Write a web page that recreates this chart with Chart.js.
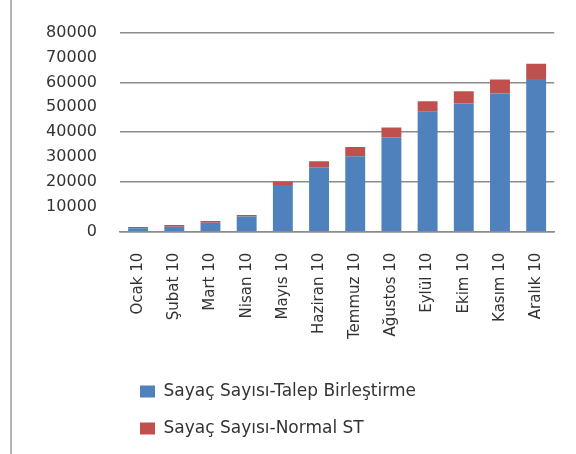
<!DOCTYPE html>
<html>
<head>
<meta charset="utf-8">
<script src="https://cdn.jsdelivr.net/npm/chart.js@4"></script>
<style>
  body { margin: 0; background: #fff; }
  .chartContainer { position: relative; width: 576px; height: 454px; }
  .frame { position: absolute; left: 10px; top: 0; width: 2px; height: 100%; background: #b4b4b4; }
</style>
</head>
<body>
<div class="chartContainer">
  <div class="frame"></div>
  <canvas id="chart"></canvas>
</div>
<script>
//chart data
const months = ["Ocak 10", "Şubat 10", "Mart 10", "Nisan 10", "Mayıs 10", "Haziran 10",
  "Temmuz 10", "Ağustos 10", "Eylül 10", "Ekim 10", "Kasım 10", "Aralık 10"];
const talepBirlestirme = [1400, 2000, 3600, 6100, 18800, 25900, 30300, 37800, 48200, 51500, 55500, 61400];
const normalST = [500, 700, 700, 600, 1400, 2400, 3700, 4100, 4200, 4900, 5700, 6100];
const seriesNames = ["Sayaç Sayısı-Talep Birleştirme", "Sayaç Sayısı-Normal ST"];
const yMax = 80000;
const yStep = 10000;

const font = "'DejaVu Sans', sans-serif";

const ctx = document.getElementById("chart").getContext("2d");
const myChart = new Chart(ctx, {
  type: "bar",
  data: {
    labels: months,
    datasets: [
      {
        label: seriesNames[0],
        data: talepBirlestirme,
        backgroundColor: "#4F81BD",
      },
      {
        label: seriesNames[1],
        data: normalST,
        backgroundColor: "#C0504D",
      },
    ],
  },
  options: {
    responsive: true,
    maintainAspectRatio: false,
    animation: false,
    layout: { padding: { top: 30, right: 20, bottom: 7, left: 22 } },
    datasets: { bar: { categoryPercentage: 1, barPercentage: 0.55 } },
    scales: {
      x: {
        stacked: true,
        grid: { display: false, drawTicks: false },
        border: { display: true, color: "#8c8c8c", width: 1.5 },
        ticks: {
          minRotation: 90,
          maxRotation: 90,
          autoSkip: false,
          padding: 21,
          color: "#333",
          font: { family: font, size: 15 },
        },
        //extra room between the month labels and the legend
        afterFit: (scale) => { scale.height += 3; },
      },
      y: {
        stacked: true,
        min: 0,
        max: yMax,
        border: { display: false },
        grid: {
          drawTicks: false,
          lineWidth: 1.5,
          //only every second tick gets a gridline
          color: (c) => (c.tick && c.tick.value % (2 * yStep) === 0 ? "#8c8c8c" : "rgba(0,0,0,0)"),
        },
        ticks: {
          stepSize: yStep,
          padding: 23,
          color: "#333",
          font: { family: font, size: 16 },
          callback: (value) => String(value),
        },
        afterFit: (scale) => { scale.width = 98; },
      },
    },
    plugins: {
      tooltip: { enabled: false },
      legend: {
        position: "bottom",
        align: "start",
        fullSize: false,
        labels: {
          boxWidth: 15,
          boxHeight: 12,
          padding: 20,
          color: "#333",
          font: { family: font, size: 17 },
        },
      },
    },
  },
});
</script>
</body>
</html>
